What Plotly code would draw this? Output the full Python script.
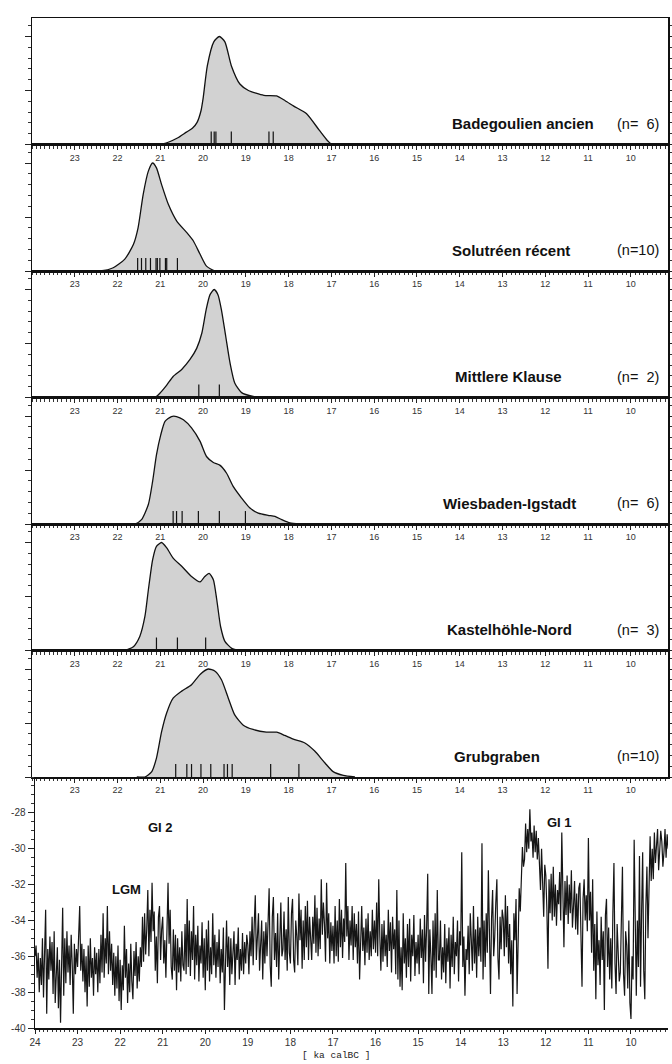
import plotly.graph_objects as go

# ---------------- data ----------------
SITES = ["Badegoulien ancien", "Solutréen récent", "Mittlere Klause",
         "Wiesbaden-Igstadt", "Kastelhöhle-Nord", "Grubgraben"]
N_LABELS = ["(n=\u20076)", "(n=10)", "(n=\u20072)", "(n=\u20076)", "(n=\u20073)", "(n=10)"]

# summed probability curves (age in ka calBC, relative density)
AGE_1 = [21.10, 20.94, 20.60, 20.39, 20.25, 20.14, 20.05, 20.00, 19.90, 19.75, 19.62, 19.49,
         19.34, 19.14, 18.94, 18.58, 18.28, 18.08, 17.88, 17.58, 17.28, 17.10, 16.98, 16.80]
DEN_1 = [0.00, 0.01, 0.12, 0.23, 0.30, 0.41, 0.62, 0.85, 1.46, 1.90, 2.00, 1.90,
         1.46, 1.12, 1.00, 0.91, 0.90, 0.81, 0.71, 0.57, 0.26, 0.08, 0.00, 0.00]

AGE_2 = [22.60, 22.41, 22.10, 21.83, 21.63, 21.52, 21.40, 21.28, 21.18, 21.09, 20.97, 20.81,
         20.62, 20.38, 20.23, 20.07, 19.92, 19.72, 19.55]
DEN_2 = [0.00, 0.00, 0.06, 0.22, 0.49, 0.80, 1.42, 1.85, 2.00, 1.91, 1.60, 1.23,
         0.93, 0.71, 0.56, 0.31, 0.09, 0.00, 0.00]

AGE_3 = [21.30, 21.13, 21.01, 20.85, 20.70, 20.50, 20.31, 20.15, 20.03, 19.93, 19.84, 19.74,
         19.65, 19.57, 19.47, 19.37, 19.26, 19.10, 18.83, 18.59]
DEN_3 = [0.00, 0.00, 0.08, 0.23, 0.39, 0.52, 0.70, 0.91, 1.19, 1.62, 1.90, 2.00,
         1.90, 1.62, 1.13, 0.64, 0.27, 0.09, 0.02, 0.00]

AGE_4 = [21.80, 21.59, 21.44, 21.28, 21.18, 21.09, 20.99, 20.89, 20.74, 20.62, 20.46, 20.27,
         20.07, 19.92, 19.76, 19.61, 19.45, 19.30, 19.10, 18.91, 18.71, 18.48, 18.32, 18.16,
         17.97, 17.74]
DEN_4 = [0.00, 0.00, 0.08, 0.36, 0.79, 1.28, 1.65, 1.90, 1.99, 1.99, 1.93, 1.78,
         1.53, 1.25, 1.14, 1.09, 0.94, 0.70, 0.48, 0.30, 0.20, 0.16, 0.14, 0.08,
         0.02, 0.00]

AGE_5 = [22.00, 21.83, 21.63, 21.48, 21.36, 21.28, 21.18, 21.09, 20.97, 20.85, 20.70, 20.50,
         20.27, 20.07, 19.96, 19.86, 19.76, 19.68, 19.59, 19.49, 19.33, 19.14]
DEN_5 = [0.00, 0.00, 0.07, 0.26, 0.63, 1.12, 1.68, 1.93, 2.00, 1.90, 1.71, 1.56,
         1.37, 1.27, 1.37, 1.43, 1.31, 0.94, 0.44, 0.17, 0.04, 0.00]

AGE_6 = [21.55, 21.36, 21.20, 21.09, 20.97, 20.85, 20.70, 20.50, 20.27, 20.07, 19.88, 19.72,
         19.57, 19.41, 19.26, 19.06, 18.83, 18.52, 18.28, 18.09, 17.89, 17.62, 17.39, 17.15,
         16.96, 16.72, 16.45]
DEN_6 = [0.00, 0.00, 0.10, 0.35, 0.84, 1.19, 1.46, 1.59, 1.71, 1.90, 2.00, 1.96,
         1.80, 1.46, 1.15, 0.96, 0.88, 0.83, 0.83, 0.77, 0.70, 0.63, 0.48, 0.26,
         0.10, 0.03, 0.00]

# individual 14C dates (ka calBC)
DATES_1 = [19.81, 19.74, 19.70, 19.34, 18.46, 18.36]
DATES_2 = [21.53, 21.44, 21.34, 21.23, 21.10, 21.07, 21.01, 20.88, 20.85, 20.60]
DATES_3 = [20.10, 19.62]
DATES_4 = [20.70, 20.62, 20.49, 20.11, 19.62, 19.01]
DATES_5 = [21.09, 20.60, 19.94]
DATES_6 = [20.64, 20.38, 20.27, 20.05, 19.82, 19.51, 19.43, 19.32, 18.42, 17.76]

# ice-core d18O record, read every 0.025 ka from 24.000 ka
D18O_START = 24.0
D18O_STEP = 0.025
D18O = [
    # 24.0 - 23.525
    -36.0, -35.4, -37.2, -35.8, -38.0, -36.1, -37.6, -35.0, -38.3, -36.4,
    -33.4, -39.2, -35.6, -37.3, -34.9, -36.8, -35.2, -38.1, -34.6, -38.6,
    # 23.5 - 23.025
    -37.4, -35.5, -38.9, -36.2, -39.7, -37.0, -33.3, -38.2, -35.0, -37.5,
    -34.6, -36.9, -35.4, -37.6, -34.8, -36.5, -39.2, -35.3, -37.0, -35.6,
    # 23.0 - 22.525
    -36.6, -34.9, -33.2, -36.8, -35.3, -37.4, -35.6, -38.0, -36.0, -38.8,
    -35.4, -37.7, -35.0, -37.2, -36.1, -38.2, -35.5, -37.0, -35.8, -38.0,
    # 22.5 - 22.025
    -35.6, -37.5, -34.8, -36.9, -33.6, -37.2, -35.0, -36.4, -33.2, -37.0,
    -34.6, -36.8, -35.3, -37.6, -35.8, -38.2, -36.0, -37.8, -35.4, -38.5,
    # 22.0 - 21.525
    -36.2, -39.0, -36.5, -37.9, -34.3, -37.2, -35.6, -38.6, -36.4, -38.0,
    -35.3, -37.4, -38.4, -35.7, -37.1, -35.2, -37.8, -36.0, -37.4, -35.5,
    # 21.5 - 21.025
    -36.6, -33.8, -36.3, -33.6, -35.9, -34.5, -32.3, -36.0, -33.4, -35.2,
    -31.9, -34.6, -33.5, -36.8, -34.9, -37.5, -33.8, -33.2, -36.2, -34.5,
    # 21.0 - 20.525
    -33.8, -36.4, -35.1, -37.2, -33.9, -31.9, -35.3, -33.4, -36.6, -37.3,
    -34.5, -36.8, -34.8, -37.9, -35.0, -36.9, -35.5, -37.4, -34.6, -36.5,
    # 20.5 - 20.025
    -36.8, -34.2, -37.0, -32.8, -36.6, -34.0, -37.1, -34.6, -36.2, -33.2,
    -37.3, -34.8, -36.5, -34.3, -37.4, -35.4, -36.4, -34.1, -37.2, -35.0,
    # 20.0 - 19.525
    -37.9, -34.5, -36.8, -34.0, -37.4, -35.5, -37.0, -33.6, -36.5, -34.8,
    -37.2, -35.2, -36.6, -34.5, -37.5, -35.6, -36.9, -34.4, -39.0, -35.8,
    # 19.5 - 19.025
    -34.0, -36.6, -34.9, -37.6, -35.0, -37.0, -35.8, -34.6, -37.6, -35.3,
    -36.2, -34.4, -37.3, -35.6, -36.8, -34.7, -37.0, -35.2, -36.4, -34.8,
    # 19.0 - 18.525
    -35.4, -37.0, -34.6, -36.0, -33.8, -36.5, -34.2, -32.6, -36.2, -34.9,
    -33.6, -36.8, -35.6, -34.0, -37.3, -34.6, -36.4, -34.1, -36.0, -33.5,
    # 18.5 - 18.025
    -32.2, -36.5, -37.7, -33.8, -32.7, -36.2, -34.7, -36.6, -33.6, -37.3,
    -34.4, -33.0, -36.0, -35.6, -33.5, -36.2, -34.5, -36.8, -32.7, -35.8,
    # 18.0 - 17.525
    -36.4, -33.6, -32.8, -36.2, -36.9, -34.0, -34.9, -36.5, -32.5, -35.1,
    -33.4, -36.7, -34.0, -36.2, -33.2, -35.5, -32.9, -36.2, -33.8, -35.3,
    # 17.5 - 17.025
    -36.2, -33.8, -35.3, -32.6, -35.8, -33.3, -36.0, -33.9, -35.6, -31.7,
    -34.8, -33.0, -34.2, -36.3, -31.9, -35.0, -33.6, -36.4, -34.1, -35.7,
    # 17.0 - 16.525
    -34.3, -36.4, -33.2, -36.0, -34.0, -36.3, -32.8, -35.5, -33.4, -36.1,
    -33.9, -35.2, -30.8, -34.9, -33.2, -36.2, -34.0, -35.4, -33.2, -36.2,
    # 16.5 - 16.025
    -33.6, -35.5, -34.2, -36.4, -33.5, -37.3, -35.0, -33.2, -35.7, -34.4,
    -36.5, -33.9, -35.8, -33.6, -36.2, -34.6, -36.0, -33.4, -35.6, -34.0,
    # 16.0 - 15.525
    -35.8, -33.0, -36.0, -31.7, -34.9, -36.8, -34.2, -36.3, -34.0, -36.0,
    -34.8, -36.6, -33.4, -35.7, -34.1, -36.9, -33.8, -35.6, -34.5, -37.0,
    # 15.5 - 15.025
    -32.3, -37.3, -34.0, -37.7, -35.5, -37.9, -33.6, -36.4, -35.0, -37.2,
    -34.2, -36.6, -33.9, -37.4, -34.8, -36.0, -33.7, -37.1, -35.2, -36.4,
    # 15.0 - 14.525
    -34.8, -37.0, -33.9, -36.1, -34.5, -37.5, -33.7, -36.3, -34.4, -31.4,
    -38.1, -34.5, -36.0, -38.1, -34.0, -36.8, -33.6, -37.2, -32.3, -36.2,
    # 14.5 - 14.025
    -36.2, -34.0, -37.3, -35.5, -36.9, -34.2, -37.5, -35.0, -36.3, -34.4,
    -37.8, -34.8, -36.6, -33.8, -37.0, -35.2, -36.0, -34.0, -37.4, -34.6,
    # 14.0 - 13.525
    -35.4, -30.2, -36.6, -34.9, -38.2, -35.6, -36.2, -34.3, -37.0, -33.6,
    -35.1, -36.8, -33.2, -36.4, -34.5, -37.2, -33.8, -36.0, -34.4, -36.3,
    # 13.5 - 13.025
    -29.7, -37.3, -34.0, -36.6, -33.6, -35.8, -31.2, -36.2, -38.1, -33.9,
    -32.3, -36.0, -34.9, -33.0, -31.7, -36.1, -37.3, -33.8, -35.6, -33.4,
    # 13.0 - 12.525
    -33.9, -36.0, -32.6, -35.5, -33.2, -36.4, -34.2, -37.0, -35.1, -38.8,
    -33.6, -35.1, -32.8, -38.1, -34.0, -32.2, -33.5, -30.8, -29.9, -31.0,
    # 12.5 - 12.025
    -30.6, -28.6, -30.2, -28.9, -30.0, -27.8, -29.6, -29.1, -30.5, -28.7,
    -30.2, -29.0, -30.6, -29.4, -31.2, -32.3, -30.0, -31.6, -33.8, -30.9,
    # 12.0 - 11.525
    -31.5, -33.4, -36.7, -31.7, -33.6, -31.4, -34.0, -31.0, -33.8, -32.0,
    -34.3, -32.3, -33.1, -31.3, -34.0, -29.1, -32.6, -35.5, -31.8, -33.7,
    # 11.5 - 11.025
    -31.5, -34.2, -32.0, -33.6, -31.2, -34.4, -33.2, -31.8, -34.5, -32.5,
    -34.8, -32.2, -31.9, -34.6, -37.7, -32.8, -31.7, -34.0, -32.6, -34.6,
    # 11.0 - 10.525
    -29.4, -34.0, -32.4, -35.8, -31.7, -36.8, -34.2, -38.4, -33.5, -36.5,
    -35.1, -37.6, -33.8, -36.2, -34.6, -39.0, -33.7, -32.8, -36.6, -34.4,
    # 10.5 - 10.025
    -37.3, -35.0, -37.8, -33.6, -30.8, -36.4, -38.1, -34.2, -35.5, -37.4,
    -36.9, -33.8, -31.0, -37.0, -38.2, -34.6, -35.4, -37.8, -34.0, -38.6,
    # 10.0 - 9.525
    -39.5, -36.0, -37.3, -29.5, -35.5, -38.2, -34.0, -36.6, -30.4, -37.7,
    -33.5, -30.2, -36.8, -38.4, -33.2, -31.0, -35.0, -30.6, -29.3, -31.8,
    # 9.5 - 9.125
    -30.0, -31.7, -29.1, -30.8, -29.6, -28.9, -31.2, -30.2, -29.0, -29.6,
    -31.0, -30.2, -28.9, -30.5, -29.2, -30.0,
]
D18O_AGE = [round(D18O_START - i * D18O_STEP, 4) for i in range(len(D18O))]

X_TICKS_UPPER = list(range(23, 9, -1))
X_TICKS_LOWER = list(range(24, 9, -1))
Y_TICKS_LOWER = [-28, -30, -32, -34, -36, -38, -40]
X_TITLE = "[ ka calBC ]"
EVENTS = ["GI 2", "LGM", "GI 1"]
EVENT_AGE = [21.06, 21.85, 11.68]
EVENT_Y = [-28.8, -32.3, -28.55]

# ---------------- layout constants ----------------
W, H = 672, 1064
ML, MR, MT, MB = 32, 4, 18, 36
PLOT_W = W - ML - MR
PLOT_H = H - MT - MB
BOTTOM_PX = 251
UPPER_PX = (PLOT_H - BOTTOM_PX) / 6.0
X_RANGE = [24.0, 9.13]
FILL = "rgb(210,210,210)"
FONT = "Liberation Sans, Arial, sans-serif"

ages = [AGE_1, AGE_2, AGE_3, AGE_4, AGE_5, AGE_6]
dens = [DEN_1, DEN_2, DEN_3, DEN_4, DEN_5, DEN_6]
dates = [DATES_1, DATES_2, DATES_3, DATES_4, DATES_5, DATES_6]
label_left_px = [450, 450, 453, 441, 445, 452]

fig = go.Figure()
layout = dict(
    width=W, height=H,
    margin=dict(l=ML, r=MR, t=MT, b=MB, pad=0, autoexpand=False),
    paper_bgcolor="white", plot_bgcolor="white",
    showlegend=False, font=dict(family=FONT, color="#222"),
)
annotations = []

for i in range(6):
    k = i + 1
    top = 1.0 - i * UPPER_PX / PLOT_H
    bot = 1.0 - (i + 1) * UPPER_PX / PLOT_H
    xa = "x" if k == 1 else f"x{k}"
    ya = "y" if k == 1 else f"y{k}"
    fig.add_trace(go.Scatter(
        x=ages[i], y=dens[i], xaxis=xa, yaxis=ya, mode="lines",
        line=dict(color="#111", width=1.3, shape="spline", smoothing=0.6),
        fill="tozeroy", fillcolor=FILL, hoverinfo="skip"))
    dx, dy = [], []
    for d in dates[i]:
        dx += [d, d, None]
        dy += [0, 0.24, None]
    fig.add_trace(go.Scatter(x=dx, y=dy, xaxis=xa, yaxis=ya, mode="lines",
                             line=dict(color="#111", width=1.2), hoverinfo="skip"))
    xname = "xaxis" if k == 1 else f"xaxis{k}"
    yname = "yaxis" if k == 1 else f"yaxis{k}"
    layout[xname] = dict(
        domain=[0, 1], anchor=ya, range=X_RANGE, tickmode="array", automargin=False,
        tickvals=X_TICKS_UPPER, ticktext=[str(t) for t in X_TICKS_UPPER],
        ticks="outside", ticklen=4, tickwidth=1, tickcolor="#222",
        minor=dict(dtick=0.1, tick0=0, ticks="outside", ticklen=2.5, tickcolor="#333", tickwidth=1),
        showline=True, linecolor="#111", linewidth=1.5, mirror=True,
        showgrid=False, zeroline=False,
        tickfont=dict(size=9, color="#333", family=FONT))
    layout[yname] = dict(
        domain=[bot, top], anchor=xa, range=[0, UPPER_PX / 54.0], automargin=False,
        tickmode="linear", tick0=0, dtick=1, ticks="outside", ticklen=6,
        tickcolor="#222", showticklabels=False,
        minor=dict(dtick=0.2, ticks="outside", ticklen=3, tickcolor="#333"),
        showline=True, linecolor="#111", linewidth=1.5, mirror="ticks",
        showgrid=False, zeroline=False)
    annotations.append(dict(
        xref="paper", yref=f"{ya} domain", x=(label_left_px[i] - ML) / PLOT_W,
        y=21 / UPPER_PX, xanchor="left", yanchor="middle", showarrow=False,
        text=f"<b>{SITES[i]}</b>", font=dict(size=15, color="#111", family=FONT)))
    annotations.append(dict(
        xref="paper", yref=f"{ya} domain", x=(661 - ML) / PLOT_W,
        y=21 / UPPER_PX, xanchor="right", yanchor="middle", showarrow=False,
        text=N_LABELS[i], font=dict(size=14.5, color="#111", family=FONT)))

# bottom ice-core panel
fig.add_trace(go.Scatter(x=D18O_AGE, y=D18O, xaxis="x7", yaxis="y7", mode="lines",
                         line=dict(color="#151515", width=1.2), hoverinfo="skip"))
layout["xaxis7"] = dict(
    domain=[3 / PLOT_W, 1], anchor="y7", range=X_RANGE, tickmode="array", automargin=False,
    tickvals=X_TICKS_LOWER, ticktext=[str(t) for t in X_TICKS_LOWER],
    ticks="outside", ticklen=4, tickcolor="#222",
    minor=dict(dtick=0.1, tick0=0, ticks="outside", ticklen=2.5, tickcolor="#333"),
    showline=True, linecolor="#111", linewidth=1.5, showgrid=False, zeroline=False,
    tickfont=dict(size=10, color="#333", family=FONT))
layout["yaxis7"] = dict(
    domain=[0, BOTTOM_PX / PLOT_H], anchor="x7", range=[-40, -26], automargin=False,
    tickmode="array", tickvals=Y_TICKS_LOWER, ticktext=[str(t) for t in Y_TICKS_LOWER],
    ticks="outside", ticklen=6, tickcolor="#222",
    minor=dict(dtick=0.5, ticks="outside", ticklen=3, tickcolor="#333"),
    showline=True, linecolor="#111", linewidth=1.5, showgrid=False, zeroline=False,
    tickfont=dict(size=10, color="#333", family=FONT))

for txt, ax, ay in zip(EVENTS, EVENT_AGE, EVENT_Y):
    annotations.append(dict(xref="x7", yref="y7", x=ax, y=ay, text=f"<b>{txt}</b>",
                            showarrow=False, font=dict(size=13, color="#111", family=FONT)))

annotations.append(dict(xref="paper", yref="paper", x=(336 - ML) / PLOT_W,
                        y=-(1055 - (H - MB)) / PLOT_H, xanchor="center", yanchor="middle",
                        showarrow=False, text=X_TITLE,
                        font=dict(size=9.5, color="#222",
                                  family="Liberation Mono, Courier New, monospace")))

layout["annotations"] = annotations
fig.update_layout(**layout)
fig.write_html(
    "out.html",
    config={"displayModeBar": False, "staticPlot": True},
    post_script="document.body.style.margin='0';document.body.style.overflow='hidden';")
